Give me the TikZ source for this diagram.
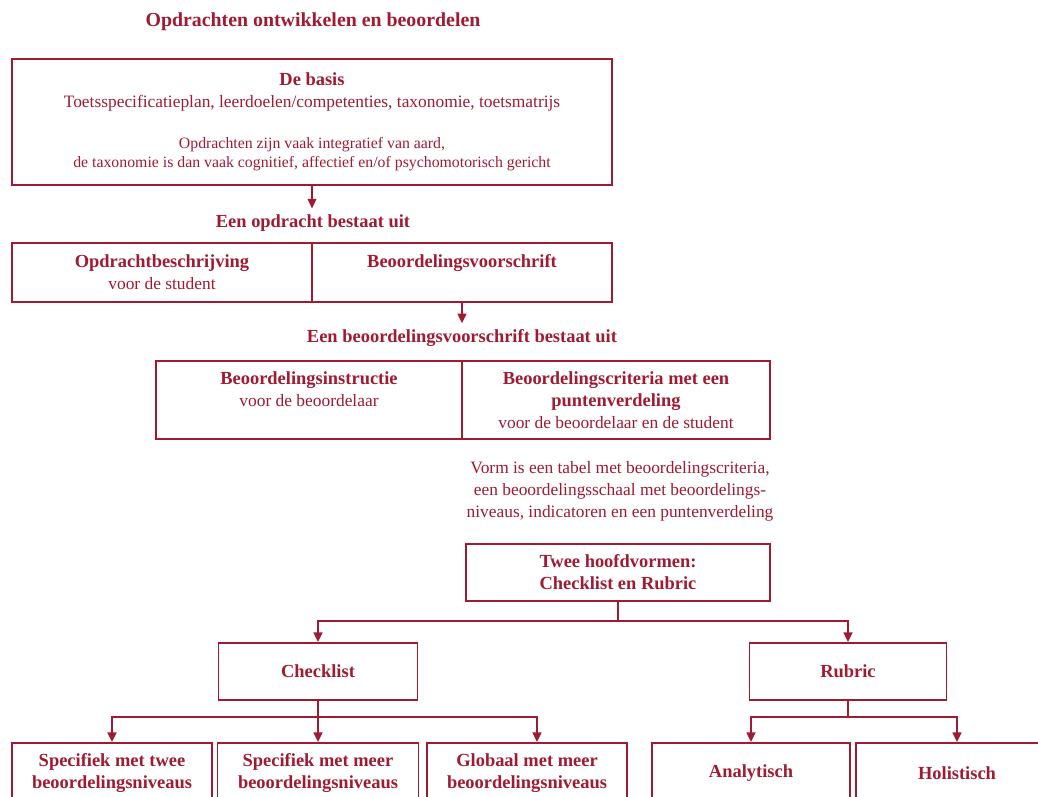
\documentclass[tikz,border=0pt]{standalone}
\usepackage{fontspec}
\setmainfont{Liberation Serif}
\usetikzlibrary{arrows.meta}
\definecolor{dred}{RGB}{158,27,50}
\newcommand{\sm}{\fontsize{9}{10}\selectfont}
\newcommand{\hb}[1]{{\fontsize{10.5}{12.5}\selectfont\bfseries #1}}

\begin{document}
\begin{tikzpicture}[x=0.02cm, y=-0.02cm,
  every node/.style={text=dred, font=\fontsize{9.9}{12.5}\selectfont, align=center},
  box/.style={draw=dred, line width=1.1pt, inner sep=0pt},
  hd/.style={font=\fontsize{10.5}{12.5}\selectfont\bfseries},
  link/.style={draw=dred, line width=1.1pt, -{Triangle[length=5.5pt,width=5pt]}}]
  \useasboundingbox (0,0) rectangle (1038,796);
  % title
  \node[font=\fontsize{11.3}{13}\selectfont\bfseries] (titel) at (313,22) {Opdrachten ontwikkelen en beoordelen};
  % de basis
  \node[box, minimum width=12cm, minimum height=2.52cm] (basis) at (312,122)
    {\hb{De basis}\\ Toetsspecificatieplan, leerdoelen/competenties, taxonomie, toetsmatrijs\\[11pt]
     \sm Opdrachten zijn vaak integratief van aard,\\[-1.5pt]
     \sm de taxonomie is dan vaak cognitief, affectief en/of psychomotorisch gericht};
  \node[hd] (opdrlab) at (313,223) {Een opdracht bestaat uit};
  \draw[link] (basis.south) -- (basis.south |- opdrlab.north);
  % opdracht
  \node[box, minimum width=6cm, minimum height=1.18cm] (beschr) at (162,272.5)
    {\hb{Opdrachtbeschrijving}\\ voor de student};
  \node[box, minimum width=6cm, minimum height=1.18cm] (voorschr) at (462,272.5)
    {\hb{Beoordelingsvoorschrift}\\ \phantom{voor}};
  \node[hd] (voorlab) at (462,338) {Een beoordelingsvoorschrift bestaat uit};
  \draw[link] (voorschr.south) -- (voorschr.south |- voorlab.north);
  % beoordelingsvoorschrift
  \node[box, minimum width=6.12cm, minimum height=1.56cm] (instr) at (309,400)
    {\hb{Beoordelingsinstructie}\\ voor de beoordelaar\\ \phantom{voor}};
  \node[box, minimum width=6.16cm, minimum height=1.56cm] (crit) at (616,400)
    {\hb{Beoordelingscriteria met een}\\ \hb{puntenverdeling}\\ voor de beoordelaar en de student};
  \node (vorm) at (620,491)
    {Vorm is een tabel met beoordelingscriteria,\\ een beoordelingsschaal met beoordelings-\\ niveaus, indicatoren en een puntenverdeling};
  % hoofdvormen
  \node[box, hd, minimum width=6.08cm, minimum height=1.14cm] (twee) at (618,572.5)
    {Twee hoofdvormen:\\ Checklist en Rubric};
  \node[box, hd, minimum width=3.98cm, minimum height=1.14cm] (check) at (318,671.5) {Checklist};
  \node[box, hd, minimum width=3.94cm, minimum height=1.14cm] (rubric) at (848,671.5) {Rubric};
  \draw[link] (twee.south) -- ++(0,19) -| (check.north);
  \draw[link] (twee.south) -- ++(0,19) -| (rubric.north);
  % checklist soorten
  \node[box, hd, minimum width=4cm, minimum height=1.2cm] (spectwee) at (112,773)
    {Specifiek met twee\\ beoordelingsniveaus};
  \node[box, hd, minimum width=4.02cm, minimum height=1.2cm] (specmeer) at (318,773)
    {Specifiek met meer\\ beoordelingsniveaus};
  \node[box, hd, minimum width=4cm, minimum height=1.2cm] (glob) at (527,773)
    {Globaal met meer\\ beoordelingsniveaus};
  \draw[link] (check.south) -- ++(0,16) -| (spectwee.north);
  \draw[link] (check.south) -- (specmeer.north);
  \draw[link] (check.south) -- ++(0,16) -| ([xshift=0.2cm]glob.north);
  % rubric soorten
  \node[box, hd, minimum width=3.96cm, minimum height=1.2cm] (ana) at (751,773) {Analytisch};
  \node[box, hd, minimum width=4.04cm, minimum height=1.2cm] (holi) at (957,773) {Holistisch};
  \draw[link] (rubric.south) -- ++(0,16) -| (ana.north);
  \draw[link] (rubric.south) -- ++(0,16) -| (holi.north);
\end{tikzpicture}
\end{document}
